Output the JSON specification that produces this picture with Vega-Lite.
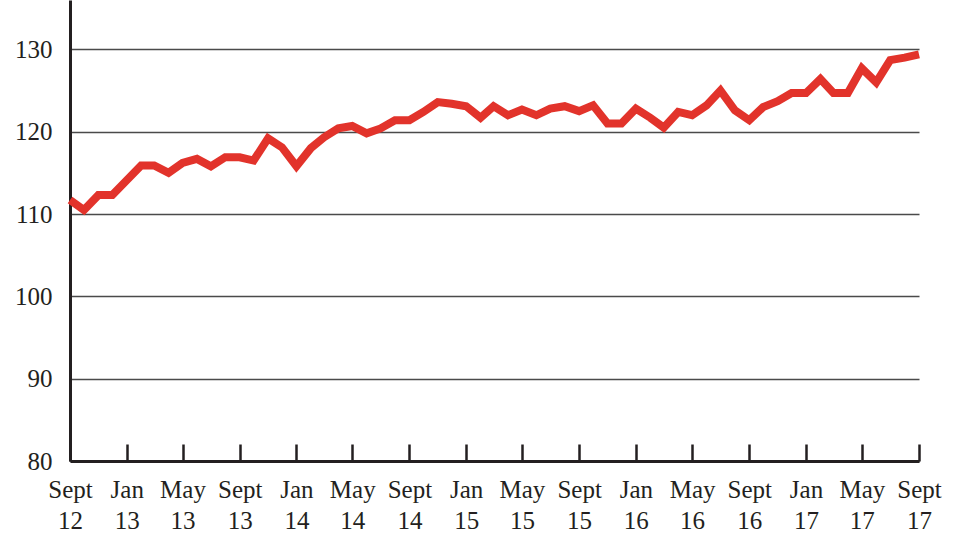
{
  "$schema": "https://vega.github.io/schema/vega-lite/v6.json",
  "autosize": "none",
  "width": 849,
  "height": 461,
  "padding": {"left": 70, "top": 0, "right": 61, "bottom": 91},
  "background": "white",
  "config": {
    "view": {"stroke": null},
    "font": "Liberation Serif",
    "axis": {"labelFont": "Liberation Serif", "labelFontSize": 25, "labelColor": "#231f20", "title": null}
  },
  "data": {
    "values": [
      {"date": "2012-09-01", "value": 111.7},
      {"date": "2012-10-01", "value": 110.5},
      {"date": "2012-11-01", "value": 112.3},
      {"date": "2012-12-01", "value": 112.3},
      {"date": "2013-01-01", "value": 114.1},
      {"date": "2013-02-01", "value": 115.9},
      {"date": "2013-03-01", "value": 115.9},
      {"date": "2013-04-01", "value": 115.0},
      {"date": "2013-05-01", "value": 116.2},
      {"date": "2013-06-01", "value": 116.7},
      {"date": "2013-07-01", "value": 115.8},
      {"date": "2013-08-01", "value": 116.9},
      {"date": "2013-09-01", "value": 116.9},
      {"date": "2013-10-01", "value": 116.5},
      {"date": "2013-11-01", "value": 119.2},
      {"date": "2013-12-01", "value": 118.1},
      {"date": "2014-01-01", "value": 115.8},
      {"date": "2014-02-01", "value": 118.0},
      {"date": "2014-03-01", "value": 119.3},
      {"date": "2014-04-01", "value": 120.4},
      {"date": "2014-05-01", "value": 120.7},
      {"date": "2014-06-01", "value": 119.8},
      {"date": "2014-07-01", "value": 120.4},
      {"date": "2014-08-01", "value": 121.4},
      {"date": "2014-09-01", "value": 121.4},
      {"date": "2014-10-01", "value": 122.4},
      {"date": "2014-11-01", "value": 123.6},
      {"date": "2014-12-01", "value": 123.4},
      {"date": "2015-01-01", "value": 123.1},
      {"date": "2015-02-01", "value": 121.7},
      {"date": "2015-03-01", "value": 123.1},
      {"date": "2015-04-01", "value": 122.0},
      {"date": "2015-05-01", "value": 122.7},
      {"date": "2015-06-01", "value": 122.0},
      {"date": "2015-07-01", "value": 122.8},
      {"date": "2015-08-01", "value": 123.1},
      {"date": "2015-09-01", "value": 122.5},
      {"date": "2015-10-01", "value": 123.2},
      {"date": "2015-11-01", "value": 121.0},
      {"date": "2015-12-01", "value": 121.0},
      {"date": "2016-01-01", "value": 122.8},
      {"date": "2016-02-01", "value": 121.7},
      {"date": "2016-03-01", "value": 120.5},
      {"date": "2016-04-01", "value": 122.4},
      {"date": "2016-05-01", "value": 122.0},
      {"date": "2016-06-01", "value": 123.2},
      {"date": "2016-07-01", "value": 125.0},
      {"date": "2016-08-01", "value": 122.6},
      {"date": "2016-09-01", "value": 121.4},
      {"date": "2016-10-01", "value": 123.0},
      {"date": "2016-11-01", "value": 123.7},
      {"date": "2016-12-01", "value": 124.7},
      {"date": "2017-01-01", "value": 124.7},
      {"date": "2017-02-01", "value": 126.4},
      {"date": "2017-03-01", "value": 124.7},
      {"date": "2017-04-01", "value": 124.7},
      {"date": "2017-05-01", "value": 127.7},
      {"date": "2017-06-01", "value": 126.0},
      {"date": "2017-07-01", "value": 128.7},
      {"date": "2017-08-01", "value": 129.0},
      {"date": "2017-09-01", "value": 129.4}
    ]
  },
  "mark": {"type": "line", "color": "#e2332b", "strokeWidth": 8, "strokeJoin": "miter", "strokeCap": "butt", "clip": false},
  "encoding": {
    "x": {
      "field": "date",
      "type": "temporal",
      "scale": {"type": "utc", "domain": [{"year": 2012, "month": 9, "date": 1, "utc": true}, {"year": 2017, "month": 9, "date": 1, "utc": true}], "nice": false},
      "axis": {
        "values": [
          {"year": 2012, "month": 9, "date": 1, "utc": true},
          {"year": 2013, "month": 1, "date": 1, "utc": true},
          {"year": 2013, "month": 5, "date": 1, "utc": true},
          {"year": 2013, "month": 9, "date": 1, "utc": true},
          {"year": 2014, "month": 1, "date": 1, "utc": true},
          {"year": 2014, "month": 5, "date": 1, "utc": true},
          {"year": 2014, "month": 9, "date": 1, "utc": true},
          {"year": 2015, "month": 1, "date": 1, "utc": true},
          {"year": 2015, "month": 5, "date": 1, "utc": true},
          {"year": 2015, "month": 9, "date": 1, "utc": true},
          {"year": 2016, "month": 1, "date": 1, "utc": true},
          {"year": 2016, "month": 5, "date": 1, "utc": true},
          {"year": 2016, "month": 9, "date": 1, "utc": true},
          {"year": 2017, "month": 1, "date": 1, "utc": true},
          {"year": 2017, "month": 5, "date": 1, "utc": true},
          {"year": 2017, "month": 9, "date": 1, "utc": true}
        ],
        "labelExpr": "[utcFormat(datum.value, '%b') == 'Sep' ? 'Sept' : utcFormat(datum.value, '%b'), utcFormat(datum.value, '%y')]",
        "labelLineHeight": 31,
        "labelBaseline": "top",
        "labelPadding": 33,
        "labelFlush": false,
        "labelOverlap": false,
        "grid": false,
        "ticks": true,
        "tickSize": -17,
        "tickWidth": 2.5,
        "tickColor": "#231f20",
        "domainColor": "#231f20",
        "domainWidth": 3
      }
    },
    "y": {
      "field": "value",
      "type": "quantitative",
      "scale": {"domain": [80, 136], "nice": false, "zero": false},
      "axis": {
        "values": [80, 90, 100, 110, 120, 130],
        "ticks": false,
        "labelPadding": 18,
        "grid": true,
        "gridColor": "#4a4a4a",
        "gridWidth": 1.6,
        "domainColor": "#231f20",
        "domainWidth": 3
      }
    }
  }
}
